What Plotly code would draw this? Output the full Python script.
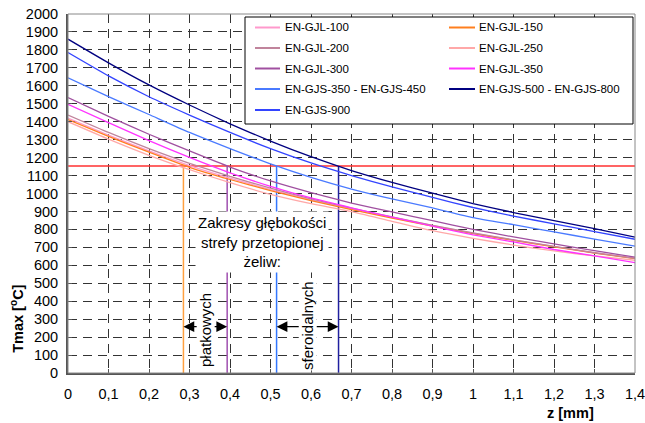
import plotly.graph_objects as go

# ---- data ----
z = [0.0, 0.1, 0.2, 0.3, 0.4, 0.5, 0.6, 0.7, 0.8, 0.9, 1.0, 1.1, 1.2, 1.3, 1.4]

gjl_100 = [1420, 1325, 1237, 1155, 1085, 1022, 965, 915, 867, 822, 779, 741, 705, 670, 640]
gjl_150 = [1412, 1318, 1230, 1146, 1078, 1016, 960, 910, 863, 818, 776, 739, 703, 668, 637]
gjl_200 = [1437, 1340, 1250, 1168, 1095, 1030, 970, 918, 870, 823, 780, 742, 705, 670, 638]
gjl_250 = [1400, 1303, 1213, 1133, 1060, 995, 943, 899, 845, 793, 750, 713, 680, 652, 628]
gjl_300 = [1534, 1430, 1330, 1237, 1147, 1070, 1005, 947, 897, 849, 800, 758, 719, 682, 645]
gjl_350 = [1497, 1395, 1295, 1201, 1115, 1040, 975, 920, 868, 818, 770, 730, 688, 652, 615]
gjs_350_450 = [1645, 1540, 1440, 1340, 1250, 1165, 1090, 1025, 970, 920, 866, 826, 786, 746, 707]
gjs_500_800 = [1860, 1728, 1605, 1493, 1388, 1292, 1205, 1128, 1062, 1002, 944, 894, 849, 804, 757]
gjs_900 = [1785, 1655, 1539, 1437, 1340, 1250, 1170, 1100, 1037, 978, 922, 874, 831, 788, 745]

series_names = ["EN-GJL-100", "EN-GJL-150", "EN-GJL-200", "EN-GJL-250", "EN-GJL-300",
                "EN-GJL-350", "EN-GJS-350 - EN-GJS-450", "EN-GJS-500 - EN-GJS-800", "EN-GJS-900"]
series_values = [gjl_100, gjl_150, gjl_200, gjl_250, gjl_300, gjl_350,
                 gjs_350_450, gjs_500_800, gjs_900]
series_colors = ["#FF99CC", "#FF7F1E", "#C0849C", "#FFA8A8", "#A050A0",
                 "#FF33FF", "#4A7AFF", "#000080", "#3344FF"]

t_limit = 1153            # horizontal threshold
z_cross = [0.285, 0.393, 0.515, 0.668]   # depth where curves reach the threshold
cross_colors = ["#FFA040", "#A050B0", "#3377FF", "#2020A0"]
arrow_level = 258

x_ticks = [0.0, 0.1, 0.2, 0.3, 0.4, 0.5, 0.6, 0.7, 0.8, 0.9, 1.0, 1.1, 1.2, 1.3, 1.4]
x_tick_text = ["0", "0,1", "0,2", "0,3", "0,4", "0,5", "0,6", "0,7", "0,8", "0,9",
               "1", "1,1", "1,2", "1,3", "1,4"]

FONT = "Liberation Sans, Arial, sans-serif"

W, H = 645, 423
L_PX, R_PX, T_PX, B_PX = 68, 635, 14, 373   # plot area in window pixels
ML, MT, MR, MB = L_PX, T_PX, W - R_PX, H - B_PX
PW, PH = R_PX - L_PX, B_PX - T_PX


def px_x(p):
    return (p - L_PX) / PW


def px_y(p):
    return (B_PX - p) / PH


fig = go.Figure()

# threshold lines (under the curves)
fig.add_trace(go.Scatter(x=[x_ticks[0], x_ticks[-1]], y=[t_limit, t_limit], mode="lines",
                         line=dict(color="#FF3030", width=1.5), showlegend=False, hoverinfo="skip"))
for zc, col in zip(z_cross, cross_colors):
    fig.add_trace(go.Scatter(x=[zc, zc], y=[0, t_limit], mode="lines",
                             line=dict(color=col, width=1.5), showlegend=False, hoverinfo="skip"))

for name, vals, col in zip(series_names, series_values, series_colors):
    fig.add_trace(go.Scatter(x=z, y=vals, mode="lines", name=name, showlegend=False,
                             line=dict(color=col, width=1.3, shape="spline", smoothing=0.5)))

# text boxes
fig.add_annotation(x=0.48, y=730, xref="x", yref="y",
                   text="Zakresy głębokości<br>strefy przetopionej<br>żeliw:",
                   showarrow=False, bgcolor="white", font=dict(family=FONT, size=15, color="black"),
                   borderpad=2)

# double arrows
for a, b in [(z_cross[0], z_cross[1]), (z_cross[2], z_cross[3])]:
    mid = (a + b) / 2
    for end in (a, b):
        fig.add_annotation(x=end, y=arrow_level, ax=mid, ay=arrow_level,
                           xref="x", yref="y", axref="x", ayref="y",
                           showarrow=True, arrowhead=2, arrowsize=1.8, arrowwidth=1.2,
                           arrowcolor="black", text="", standoff=0)

fig.add_annotation(x=(z_cross[0] + z_cross[1]) / 2 + 0.002, y=240, xref="x", yref="y",
                   text="płatkowych", textangle=-90, showarrow=False, bgcolor="white",
                   font=dict(family=FONT, size=15, color="black"), borderpad=0)
fig.add_annotation(x=(z_cross[2] + z_cross[3]) / 2, y=260, xref="x", yref="y",
                   text="sferoidalnych", textangle=-90, showarrow=False, bgcolor="white",
                   font=dict(family=FONT, size=15, color="black"), borderpad=0)

# axis titles
fig.add_annotation(x=px_x(17), y=302, xref="paper", yref="y", xanchor="center", yanchor="middle",
                   text="<b>Tmax [<sup>o</sup>C]</b>",
                   textangle=-90, showarrow=False, font=dict(family=FONT, size=14.5, color="black"))
fig.add_annotation(x=1.24, y=px_y(413), xref="x", yref="paper", xanchor="center", yanchor="middle",
                   text="<b>z [mm]</b>",
                   showarrow=False, font=dict(family=FONT, size=14.5, color="black"))

# top/right frame
fig.add_shape(type="rect", xref="paper", yref="paper", x0=0, y0=0, x1=1, y1=1,
              line=dict(color="#888888", width=1), layer="above")

# hand-made two-column legend
fig.add_shape(type="rect", xref="paper", yref="paper",
              x0=px_x(245), x1=px_x(633), y0=px_y(124), y1=px_y(17),
              line=dict(color="black", width=1), fillcolor="white", layer="above")
row_y = [27.5, 48, 68.5, 89, 110]
col_line = [(255, 280), (449, 475)]
col_text = [283, 477]
for i, (name, col) in enumerate(zip(series_names, series_colors)):
    r, c = divmod(i, 2)
    yy = px_y(row_y[r])
    fig.add_shape(type="line", xref="paper", yref="paper",
                  x0=px_x(col_line[c][0]), x1=px_x(col_line[c][1]), y0=yy, y1=yy,
                  line=dict(color=col, width=2), layer="above")
    fig.add_annotation(x=px_x(col_text[c]), y=yy, xref="paper", yref="paper",
                       xanchor="left", yanchor="middle", text=name, showarrow=False,
                       font=dict(family=FONT, size=11.5, color="black"))

fig.update_layout(
    width=W, height=H,
    margin=dict(l=ML, r=MR, t=MT, b=MB, autoexpand=False),
    paper_bgcolor="white", plot_bgcolor="white",
    font=dict(family=FONT, size=14.5, color="black"),
    showlegend=False,
    xaxis=dict(range=[0, 1.4], tickvals=x_ticks, ticktext=x_tick_text,
               showgrid=True, gridcolor="#333333", griddash="9px,6px", gridwidth=1,
               showline=True, linecolor="#555555", linewidth=2,
               ticks="inside", ticklen=4, tickcolor="#555555",
               tickfont=dict(family=FONT, size=14.5), zeroline=False, fixedrange=True,
               ticklabelstandoff=7, automargin=False, ticklabeloverflow="allow"),
    yaxis=dict(range=[0, 2000], dtick=100, tick0=0,
               showgrid=True, gridcolor="#333333", griddash="9px,6px", gridwidth=1,
               showline=True, linecolor="#555555", linewidth=2,
               ticks="inside", ticklen=4, tickcolor="#555555",
               tickfont=dict(family=FONT, size=14.5), zeroline=False, fixedrange=True,
               ticklabelstandoff=5, automargin=False, ticklabeloverflow="allow"),
)

# remove the browser's default 8px page margin so the figure fills the window
fig.write_html("out.html", config={"displayModeBar": False},
               post_script="document.body.style.margin='0px';")
